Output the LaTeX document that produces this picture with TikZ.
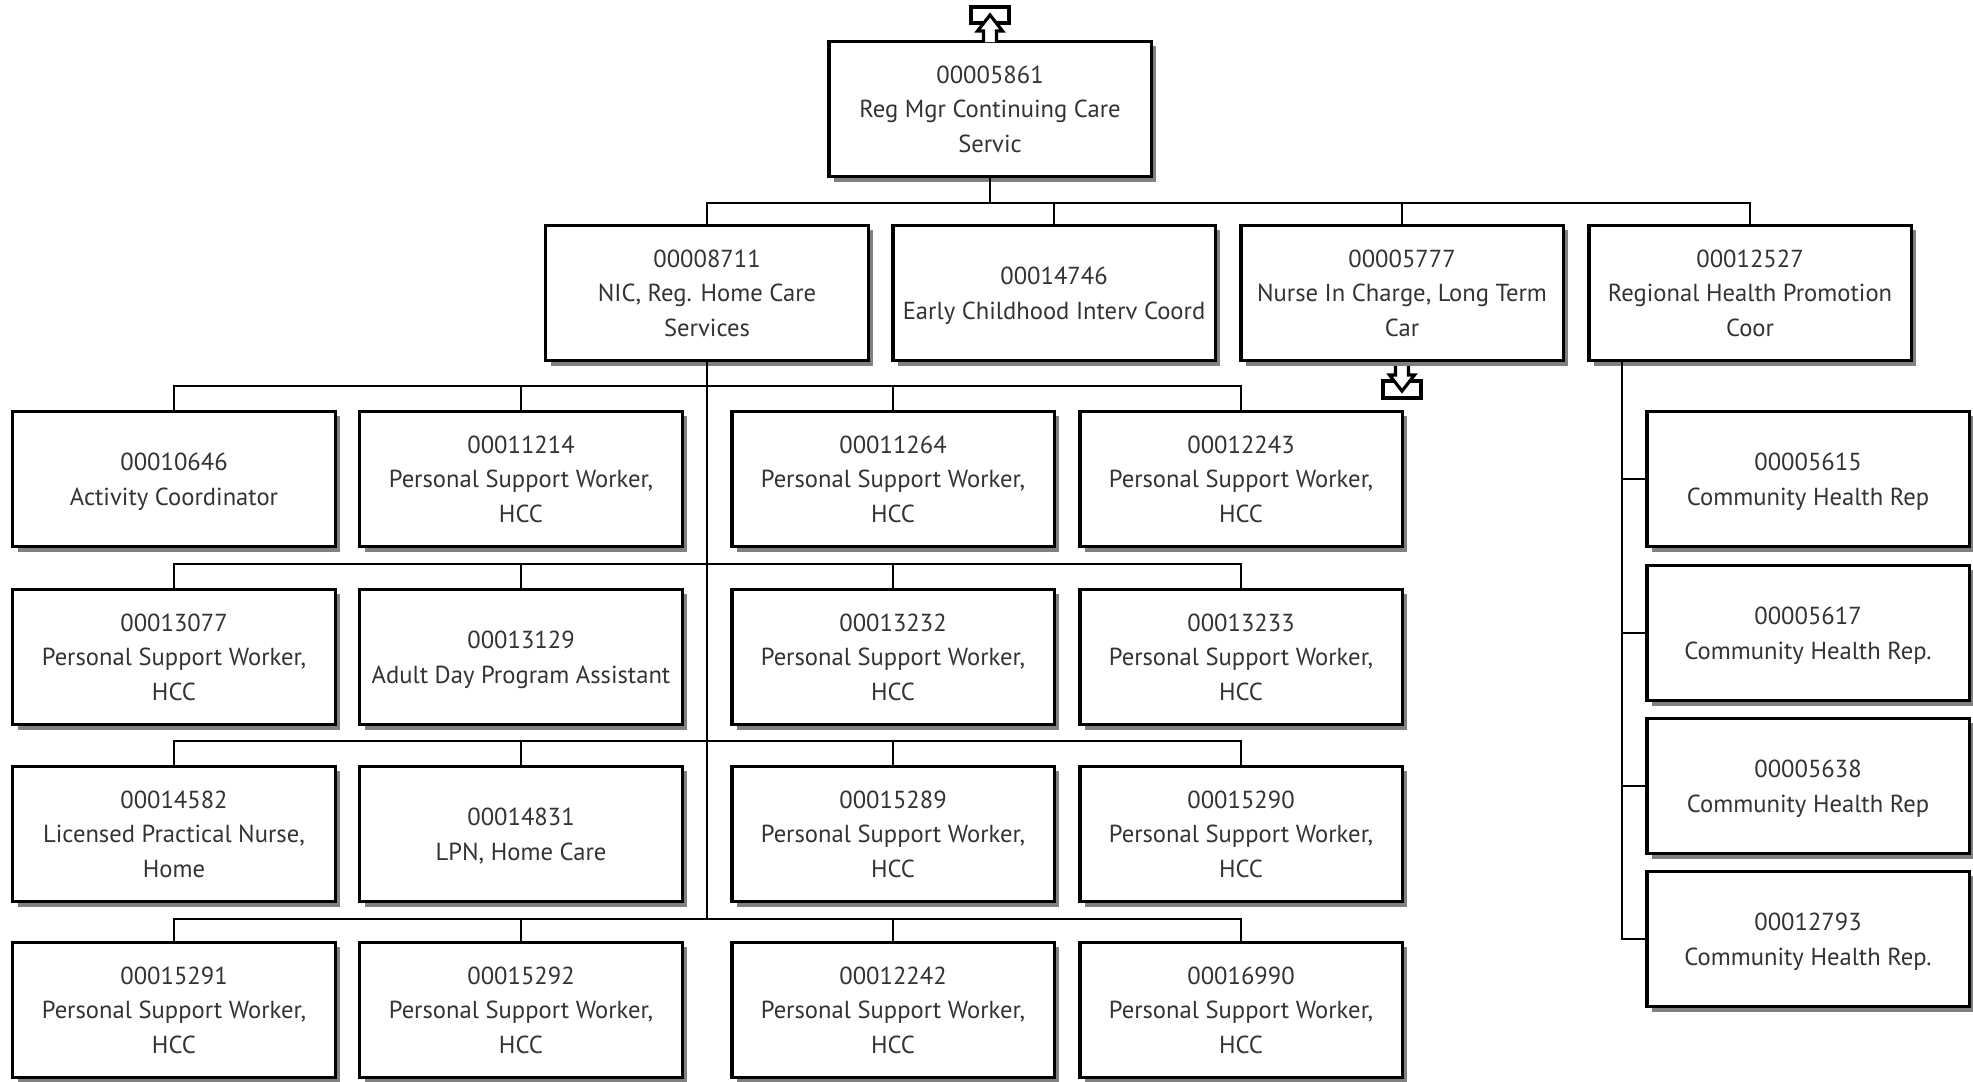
\documentclass[tikz,border=0pt]{standalone}
\usepackage{fontspec}
\setmainfont{PT Sans}
\usetikzlibrary{shadows}

\begin{document}
\begin{tikzpicture}[x=0.01cm, y=-0.01cm,
    post/.style={draw=black, line width=0.9pt, fill=white, text=black!80, align=center, minimum width=3.22cm, minimum height=1.35cm, inner sep=1pt, text depth=0pt, font=\fontsize{7}{9.8}\selectfont, general shadow={fill=black!50, shadow xshift=0.05cm, shadow yshift=-0.05cm}},
    link/.style={line width=0.7pt},
    offpage/.style={draw=black, line width=0.9pt, fill=white, line join=miter}]
    \useasboundingbox (0,0) rectangle (1973,1081);
    % top manager
    \node[post] (mgr) at (990,109) {00005861\\Reg Mgr Continuing Care\\Servic};
    % second level
    \node[post] (nic) at (707,293) {00008711\\NIC, Reg. Home Care\\Services};
    \node[post] (eci) at (1054,293) {00014746\\Early Childhood Interv Coord};
    \node[post] (nlt) at (1402,293) {00005777\\Nurse In Charge, Long Term\\Car};
    \node[post] (rhp) at (1750,293) {00012527\\Regional Health Promotion\\Coor};
    % home care staff
    \node[post] (p10646) at (174,479) {00010646\\Activity Coordinator};
    \node[post] (p11214) at (521,479) {00011214\\Personal Support Worker,\\HCC};
    \node[post] (p11264) at (893,479) {00011264\\Personal Support Worker,\\HCC};
    \node[post] (p12243) at (1241,479) {00012243\\Personal Support Worker,\\HCC};
    \node[post] (p13077) at (174,657) {00013077\\Personal Support Worker,\\HCC};
    \node[post] (p13129) at (521,657) {00013129\\Adult Day Program Assistant};
    \node[post] (p13232) at (893,657) {00013232\\Personal Support Worker,\\HCC};
    \node[post] (p13233) at (1241,657) {00013233\\Personal Support Worker,\\HCC};
    \node[post] (p14582) at (174,834) {00014582\\Licensed Practical Nurse,\\Home};
    \node[post] (p14831) at (521,834) {00014831\\LPN, Home Care};
    \node[post] (p15289) at (893,834) {00015289\\Personal Support Worker,\\HCC};
    \node[post] (p15290) at (1241,834) {00015290\\Personal Support Worker,\\HCC};
    \node[post] (p15291) at (174,1010) {00015291\\Personal Support Worker,\\HCC};
    \node[post] (p15292) at (521,1010) {00015292\\Personal Support Worker,\\HCC};
    \node[post] (p12242) at (893,1010) {00012242\\Personal Support Worker,\\HCC};
    \node[post] (p16990) at (1241,1010) {00016990\\Personal Support Worker,\\HCC};
    % health promotion staff
    \node[post] (c5615) at (1808,479) {00005615\\Community Health Rep};
    \node[post] (c5617) at (1808,633) {00005617\\Community Health Rep.};
    \node[post] (c5638) at (1808,786) {00005638\\Community Health Rep};
    \node[post] (c12793) at (1808,939) {00012793\\Community Health Rep.};

    % connectors from the manager
    \draw[link] (mgr.south) -- ++(0,25) -| (nic.north);
    \draw[link] (mgr.south) -- ++(0,25) -| (eci.north);
    \draw[link] (mgr.south) -- ++(0,25) -| (nlt.north);
    \draw[link] (mgr.south) -- ++(0,25) -| (rhp.north);

    % home care rows
    \coordinate (bus1) at (707,386);
    \coordinate (bus2) at (707,564);
    \coordinate (bus3) at (707,741);
    \coordinate (bus4) at (707,919);
    \draw[link] (nic.south) -- (bus4);
    \foreach \r/\a/\b/\c/\d in {1/p10646/p11214/p11264/p12243, 2/p13077/p13129/p13232/p13233,
                                 3/p14582/p14831/p15289/p15290, 4/p15291/p15292/p12242/p16990} {
      \draw[link] (bus\r) -| (\a.north);
      \draw[link] (bus\r) -| (\b.north);
      \draw[link] (bus\r) -| (\c.north);
      \draw[link] (bus\r) -| (\d.north);
    }

    % health promotion column
    \coordinate (rtop) at (1622,360);
    \foreach \n in {c5615,c5617,c5638,c12793}
      \draw[link] (rtop) |- (\n.west);

    % off-page markers
    \draw[offpage] (971,7) rectangle (1009,23);
    \draw[offpage] (983.5,42) -- (983.5,31) -- (977.5,31) -- (990,15) -- (1002.5,31) -- (996.5,31) -- (996.5,42);
    \draw[offpage] (1383,381) rectangle (1421,398);
    \draw[offpage] (1395.5,366) -- (1395.5,375) -- (1389.5,375) -- (1402,391) -- (1414.5,375) -- (1408.5,375) -- (1408.5,366);
\end{tikzpicture}
\end{document}
